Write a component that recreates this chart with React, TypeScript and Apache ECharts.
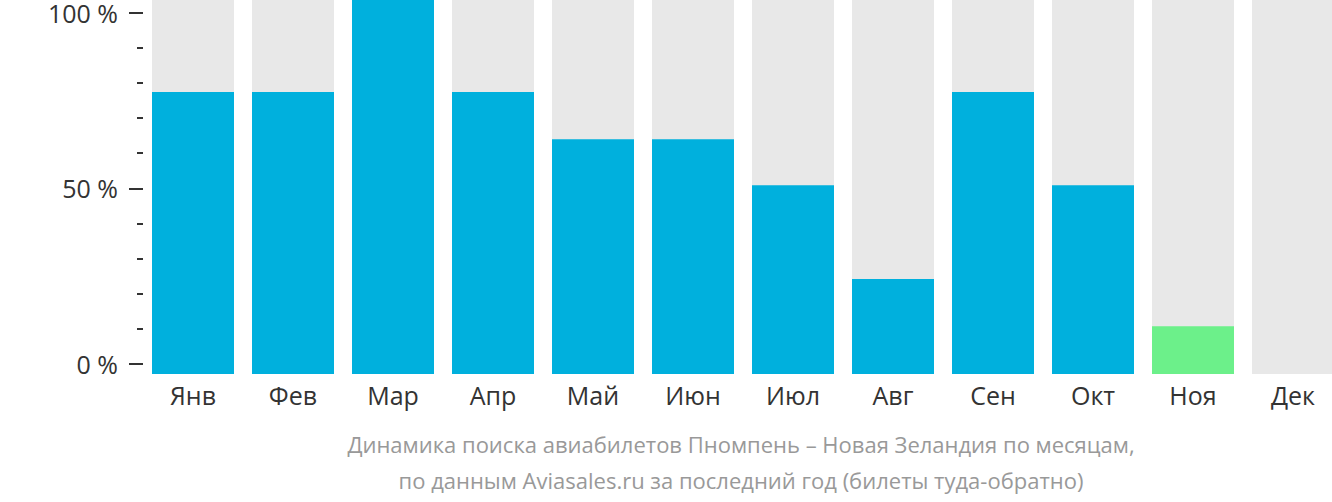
import React, { useEffect, useRef } from "react";
import * as echarts from "echarts";

const months = ["Янв", "Фев", "Мар", "Апр", "Май", "Июн", "Июл", "Авг", "Сен", "Окт", "Ноя", "Дек"];
const shares = [75.4, 75.4, 100, 75.4, 62.8, 62.8, 50.5, 25.4, 75.4, 50.5, 12.8, 0];
const highlightIndex = 10;
const yTicks = [0, 50, 100];
const titleLines = [
  "Динамика поиска авиабилетов Пномпень – Новая Зеландия по месяцам,",
  "по данным Aviasales.ru за последний год (билеты туда-обратно)",
];

const FONT = "'Open Sans', sans-serif";

export default function App() {
  const ref = useRef<HTMLDivElement>(null);
  useEffect(() => {
    if (!ref.current) return;
    const chart = echarts.init(ref.current, undefined, { renderer: "svg" });
    chart.setOption({
      animation: false,
      textStyle: { fontFamily: FONT },
      grid: [
        { left: 143, width: 1200, top: 0, height: 374 },
        { left: 143, width: 1200, top: 7, height: 357 },
      ],
      xAxis: [
        {
          type: "category",
          gridIndex: 0,
          data: months,
          axisLine: { show: false },
          axisTick: { show: false },
          axisLabel: { color: "#333", fontSize: 25, margin: 8, fontFamily: FONT },
        },
        { type: "category", gridIndex: 1, data: months, show: false },
      ],
      yAxis: [
        { type: "value", gridIndex: 0, min: 0, max: 100, show: false },
        {
          type: "value",
          gridIndex: 1,
          min: 0,
          max: 100,
          interval: 50,
          axisLine: { show: false },
          splitLine: { show: false },
          axisTick: { show: true, length: 14, lineStyle: { color: "#333", width: 2 } },
          minorTick: { show: true, splitNumber: 5, length: 6, lineStyle: { color: "#333", width: 2 } },
          axisLabel: {
            color: "#333",
            fontSize: 25,
            margin: 25,
            fontFamily: FONT,
            formatter: (v: number) => (yTicks.includes(v) ? `${v} %` : ""),
          },
        },
      ],
      series: [
        {
          type: "bar",
          xAxisIndex: 0,
          yAxisIndex: 0,
          barWidth: 82,
          showBackground: true,
          backgroundStyle: { color: "#e8e8e8" },
          data: shares.map((v, i) => ({
            value: v,
            itemStyle: { color: i === highlightIndex ? "#6cf08a" : "#00b0dd" },
          })),
        },
      ],
      graphic: titleLines.map((t, i) => ({
        type: "text",
        x: 741,
        y: 444 + i * 36,
        style: {
          text: t,
          fill: "#999",
          fontSize: 22,
          fontFamily: FONT,
          align: "center",
          verticalAlign: "middle",
        },
      })),
    });
    return () => chart.dispose();
  }, []);
  return (
    <div style={{ position: "absolute", left: 0, top: 0, width: 1332, height: 502, overflow: "hidden" }}>
      <div ref={ref} style={{ width: 1343, height: 502 }} />
    </div>
  );
}
